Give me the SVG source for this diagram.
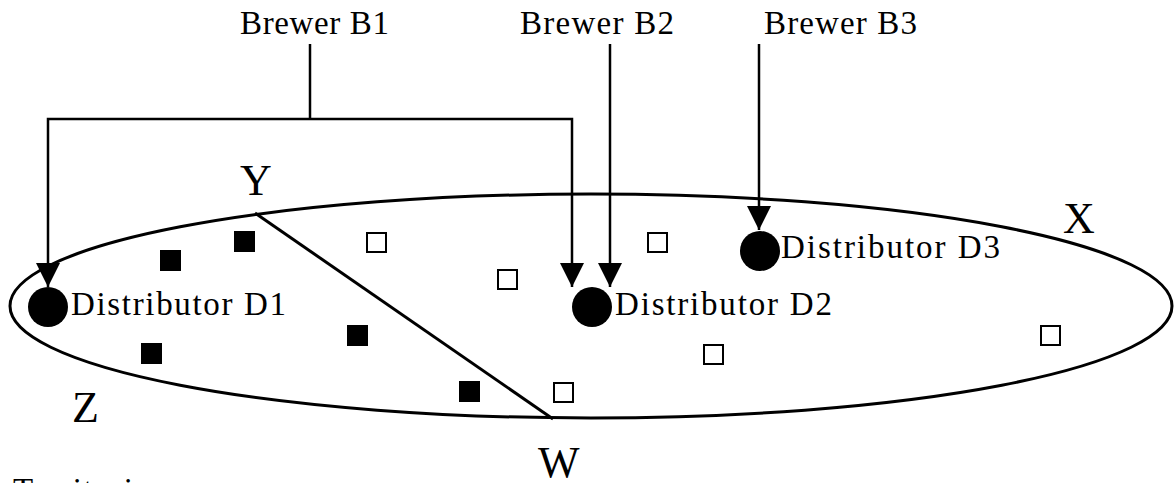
<svg xmlns="http://www.w3.org/2000/svg" width="1174" height="483" viewBox="0 0 1174 483">
<style>
text{font-family:"Liberation Serif","Times New Roman",serif;fill:#000}
.lbl{font-size:33px}
.big{font-size:44px}
.ln{fill:none;stroke:#000;stroke-width:2.5}
.fs{fill:#000}
.os{fill:#fff;stroke:#000;stroke-width:2}
</style>
<defs>
<marker id="ah" viewBox="0 0 24 24" markerWidth="24" markerHeight="24" refX="24" refY="12" orient="auto" markerUnits="userSpaceOnUse">
<path d="M0,0 L24,12 L0,24 Z" fill="#000"/>
</marker>
</defs>
<rect width="1174" height="483" fill="#fff"/>
<g id="territory">
<ellipse cx="591" cy="306" rx="581" ry="112" fill="none" stroke="#000" stroke-width="3"/>
<line x1="255" y1="213" x2="553" y2="419" stroke="#000" stroke-width="3"/>
</g>
<g id="labels">
<text class="big" x="240" y="195">Y</text>
<text class="big" x="1063" y="233">X</text>
<text class="big" x="72" y="422">Z</text>
<text class="big" x="538" y="477">W</text>
<text class="lbl" x="13" y="501" textLength="150">Territories</text>
</g>
<g id="squares">
<rect class="fs" x="160" y="250" width="21" height="21"/>
<rect class="fs" x="234" y="231" width="21" height="21"/>
<rect class="fs" x="141" y="343" width="21" height="21"/>
<rect class="fs" x="347" y="325" width="21" height="21"/>
<rect class="fs" x="459" y="381" width="21" height="21"/>
<rect class="os" x="367" y="233" width="19" height="19"/>
<rect class="os" x="498" y="270" width="19" height="19"/>
<rect class="os" x="648" y="233" width="19" height="19"/>
<rect class="os" x="704" y="345" width="19" height="19"/>
<rect class="os" x="554" y="383" width="19" height="19"/>
<rect class="os" x="1041" y="326" width="19" height="19"/>
</g>
<g id="brewerB1"><text class="lbl" x="240" y="34" textLength="149">Brewer B1</text></g>
<g id="brewerB2"><text class="lbl" x="520" y="34" textLength="154">Brewer B2</text></g>
<g id="brewerB3"><text class="lbl" x="764" y="34" textLength="153">Brewer B3</text></g>
<g id="distributorD1">
<circle cx="48" cy="307" r="20"/>
<text class="lbl" x="71" y="315" textLength="215">Distributor D1</text>
</g>
<g id="distributorD2">
<circle cx="592" cy="307" r="20"/>
<text class="lbl" x="615" y="315" textLength="217">Distributor D2</text>
</g>
<g id="distributorD3">
<circle cx="760" cy="251" r="20"/>
<text class="lbl" x="781" y="258" textLength="219">Distributor D3</text>
</g>
<g id="connectors">
<polyline class="ln" points="310,44 310,119"/>
<polyline class="ln" points="310,119 48,119 48,287" marker-end="url(#ah)"/>
<polyline class="ln" points="310,119 572,119 572,287" marker-end="url(#ah)"/>
<polyline class="ln" points="610,44 610,287" marker-end="url(#ah)"/>
<polyline class="ln" points="759,44 759,230" marker-end="url(#ah)"/>
</g>
</svg>
